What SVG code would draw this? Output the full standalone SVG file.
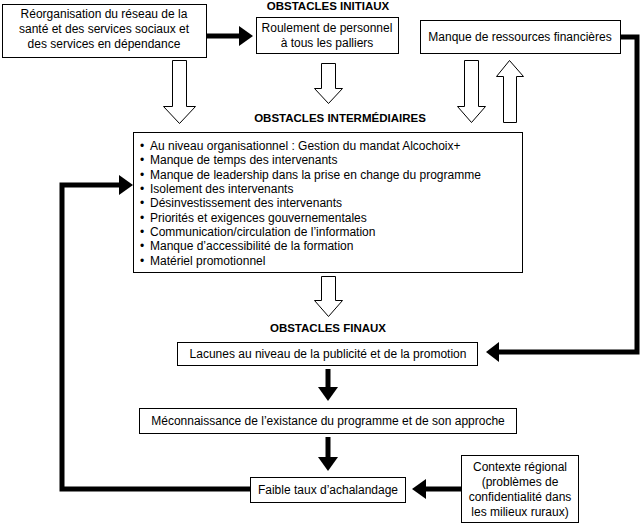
<svg xmlns="http://www.w3.org/2000/svg" width="640" height="529" viewBox="0 0 640 529">
<style>
.box{fill:#fff;stroke:#000;stroke-width:1}
.t{font-family:"Liberation Sans",Arial,sans-serif;font-size:12px;fill:#000}
.c{text-anchor:middle}
.h{font-family:"Liberation Sans",Arial,sans-serif;font-size:11.5px;font-weight:bold;text-anchor:middle;fill:#000}
.hol{fill:#fff;stroke:#000;stroke-width:1}
.thick{fill:none;stroke:#000;stroke-width:5}
.head{fill:#000}
</style>
<rect width="640" height="529" fill="#fff"/>
<text class="h" x="328" y="10">OBSTACLES INITIAUX</text>
<text class="h" x="340" y="122">OBSTACLES INTERMÉDIAIRES</text>
<text class="h" x="328" y="332">OBSTACLES FINAUX</text>

<g id="n1">
<rect class="box" x="2.5" y="4.5" width="204" height="53"/>
<text class="t c" x="104" y="18">Réorganisation du réseau de la</text>
<text class="t c" x="104" y="33">santé et des services sociaux et</text>
<text class="t c" x="104" y="48">des services en dépendance</text>
</g>
<g id="n2">
<rect class="box" x="256.5" y="17.5" width="142" height="36"/>
<text class="t c" x="327" y="32">Roulement de personnel</text>
<text class="t c" x="327" y="47">à tous les palliers</text>
</g>
<g id="n3">
<rect class="box" x="420.5" y="20.5" width="200" height="33"/>
<text class="t c" x="520" y="41">Manque de ressources financières</text>
</g>
<g id="n4">
<rect class="box" x="133.5" y="132.5" width="389" height="140"/>
<g class="t">
<text x="140" y="150">•</text><text x="150" y="150">Au niveau organisationnel : Gestion du mandat Alcochoix+</text>
<text x="140" y="164">•</text><text x="150" y="164">Manque de temps des intervenants</text>
<text x="140" y="179">•</text><text x="150" y="179">Manque de leadership dans la prise en change du programme</text>
<text x="140" y="193">•</text><text x="150" y="193">Isolement des intervenants</text>
<text x="140" y="207">•</text><text x="150" y="207">Désinvestissement des intervenants</text>
<text x="140" y="222">•</text><text x="150" y="222">Priorités et exigences gouvernementales</text>
<text x="140" y="236">•</text><text x="150" y="236">Communication/circulation de l’information</text>
<text x="140" y="250">•</text><text x="150" y="250">Manque d’accessibilité de la formation</text>
<text x="140" y="265">•</text><text x="150" y="265">Matériel promotionnel</text>
</g>
</g>
<g id="n5">
<rect class="box" x="177.5" y="342.5" width="300" height="23"/>
<text class="t c" x="328" y="358">Lacunes au niveau de la publicité et de la promotion</text>
</g>
<g id="n6">
<rect class="box" x="139.5" y="408.5" width="377" height="25"/>
<text class="t c" x="328" y="425">Méconnaissance de l’existance du programme et de son approche</text>
</g>
<g id="n7">
<rect class="box" x="250.5" y="477.5" width="155" height="25"/>
<text class="t c" x="328" y="494">Faible taux d’achalandage</text>
</g>
<g id="n8">
<rect class="box" x="461.5" y="455.5" width="117" height="67"/>
<text class="t c" x="520" y="471">Contexte régional</text>
<text class="t c" x="520" y="486">(problèmes de</text>
<text class="t c" x="520" y="501">confidentialité dans</text>
<text class="t c" x="520" y="516">les milieux ruraux)</text>
</g>

<g id="connectors">
<path class="thick" d="M207 36H240"/>
<polygon class="head" points="239,26 253,36 239,46"/>
<polygon class="hol" points="172.5,60.5 186.5,60.5 186.5,106.5 195.5,106.5 179.5,123.5 163.5,106.5 172.5,106.5"/>
<polygon class="hol" points="321.5,63.5 335.5,63.5 335.5,88.5 342.5,88.5 328.5,103.5 314.5,88.5 321.5,88.5"/>
<polygon class="hol" points="464.5,60.5 478.5,60.5 478.5,106.5 485.5,106.5 471.5,122.5 457.5,106.5 464.5,106.5"/>
<polygon class="hol" points="503.5,122.5 516.5,122.5 516.5,76.5 523.5,76.5 509.5,60.5 496.5,76.5 503.5,76.5"/>
<polygon class="hol" points="321.5,276.5 335.5,276.5 335.5,300.5 342.5,300.5 328.5,316.5 314.5,300.5 321.5,300.5"/>
<path class="thick" d="M620 37H637V352H498"/>
<polygon class="head" points="499,342 486,352 499,362"/>
<path class="thick" d="M328 369V388"/>
<polygon class="head" points="318,387 328,401 338,387"/>
<path class="thick" d="M328 437V458"/>
<polygon class="head" points="318,457 328,471 338,457"/>
<path class="thick" d="M461 489H425"/>
<polygon class="head" points="426,479 412,489 426,499"/>
<path class="thick" d="M250 489H62V185H120"/>
<polygon class="head" points="119,175 133,185 119,195"/>
</g>
</svg>
